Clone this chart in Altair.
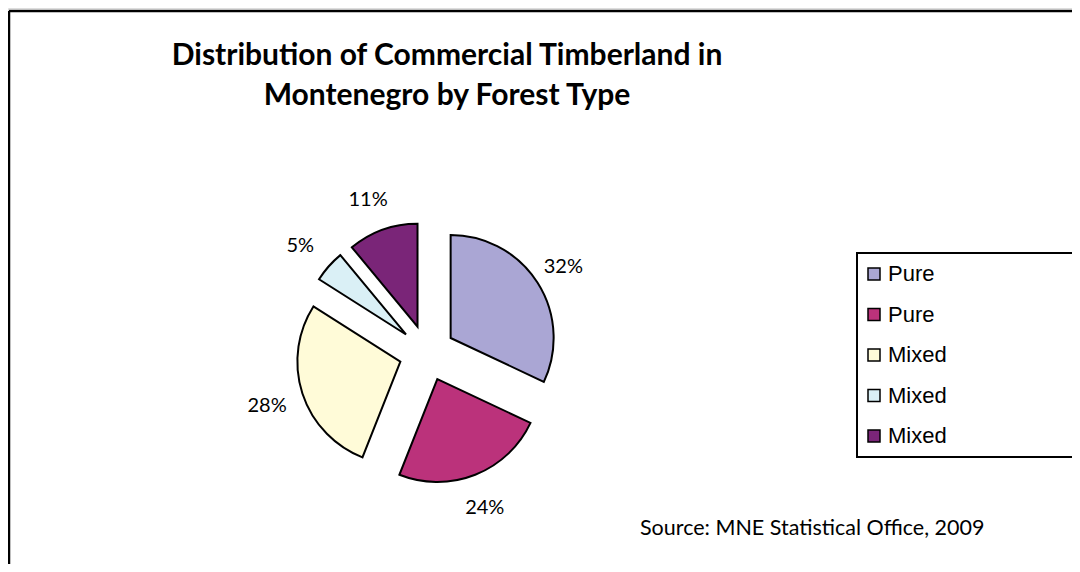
import altair as alt
import pandas as pd

# ---- data ----
slice_keys = ["Pure 1", "Pure 2", "Mixed 1", "Mixed 2", "Mixed 3"]
slice_names = ["Pure", "Pure", "Mixed", "Mixed", "Mixed"]
shares = [32, 24, 28, 5, 11]
colors = ["#AAA6D4", "#BB327B", "#FFFBD8", "#DAF0F6", "#7A2578"]
title_lines = ["Distribution of Commercial Timberland in", "Montenegro by Forest Type"]
title_rows = [0, 1]
source_text = "Source: MNE Statistical Office, 2009"

# ---- layout constants ----
W, H = 1064, 556
CX, CY = 419, 345      # pie centre (px)
R = 103                # pie radius
EXPLODE = 28           # slice explosion distance
LR = 165               # label radius

df = pd.DataFrame({
    "key": slice_keys,
    "name": slice_names,
    "share": shares,
    "order": list(range(len(shares))),
})

base = alt.Chart(df).transform_window(
    cum="sum(share)", sort=[alt.SortField("order")], frame=[None, 0]
).transform_joinaggregate(
    total="sum(share)"
).transform_calculate(
    a0="2*PI*(datum.cum-datum.share)/datum.total",
    a1="2*PI*datum.cum/datum.total",
).transform_calculate(
    mid="(datum.a0+datum.a1)/2"
).transform_calculate(
    px=f"{CX}+{EXPLODE}*sin(datum.mid)",
    py=f"{CY}-{EXPLODE}*cos(datum.mid)",
    lx=f"{CX}-3+{LR}*sin(datum.mid)",
    ly=f"{CY}+2-{LR}*cos(datum.mid)",
    pct="format(datum.share/datum.total, '.0%')",
)

arcs = base.mark_arc(radius=R, stroke="black", strokeWidth=2).encode(
    theta=alt.Theta("a0:Q", scale=None),
    theta2="a1:Q",
    x=alt.X("px:Q", scale=None, axis=None),
    y=alt.Y("py:Q", scale=None, axis=None),
    color=alt.Color(
        "key:N",
        scale=alt.Scale(domain=slice_keys, range=colors),
        sort=slice_keys,
        legend=alt.Legend(
            title=None,
            orient="none",
            legendX=855,
            legendY=255,
            symbolType="square",
            symbolSize=144,
            symbolStrokeColor="black",
            symbolStrokeWidth=1.5,
            symbolOpacity=1,
            labelFont="Liberation Sans",
            labelFontSize=22,
            labelColor="black",
            labelOffset=3,
            rowPadding=18.5,
            padding=0,
            labelExpr="split(datum.label, ' ')[0]",
        ),
    ),
)

labels = base.mark_text(font="Lato", fontSize=20, color="black", baseline="middle", align="center").encode(
    x=alt.X("lx:Q", scale=None, axis=None),
    y=alt.Y("ly:Q", scale=None, axis=None),
    text="pct:N",
)

title_df = pd.DataFrame({"line": title_lines, "row": title_rows})
title = alt.Chart(title_df).mark_text(
    font="Lato", fontWeight="bold", fontSize=30, color="black", align="center", baseline="alphabetic"
).encode(
    x=alt.value(439),
    y=alt.Y("row:Q", scale=alt.Scale(domain=[0, 1], range=[57, 97]), axis=None),
    text="line:N",
)

source = alt.Chart(pd.DataFrame({"t": [source_text]})).mark_text(
    font="Lato", fontSize=21.5, color="black", align="left", baseline="alphabetic"
).encode(x=alt.value(632), y=alt.value(527), text="t:N")

# frame lines and legend box (decoration)
frame_top = alt.Chart(pd.DataFrame({"d": [0]})).mark_rule(color="black", strokeWidth=2.5).encode(
    x=alt.value(1), x2=alt.value(W), y=alt.value(3)
)
frame_left = alt.Chart(pd.DataFrame({"d": [0]})).mark_rule(color="black", strokeWidth=2.5).encode(
    x=alt.value(1), y=alt.value(3), y2=alt.value(H)
)
legend_box = alt.Chart(pd.DataFrame({"d": [0]})).mark_rect(
    fill="white", stroke="black", strokeWidth=2
).encode(x=alt.value(849), x2=alt.value(W + 5), y=alt.value(245), y2=alt.value(449))

chart = alt.layer(
    frame_top, frame_left, legend_box, title, source, arcs, labels
).properties(
    width=W, height=H, padding=0, autosize=alt.AutoSizeParams(type="none")
).configure_view(stroke=None).configure(background="white")

chart.save("out.html", embed_options={"renderer": "svg", "actions": False})
